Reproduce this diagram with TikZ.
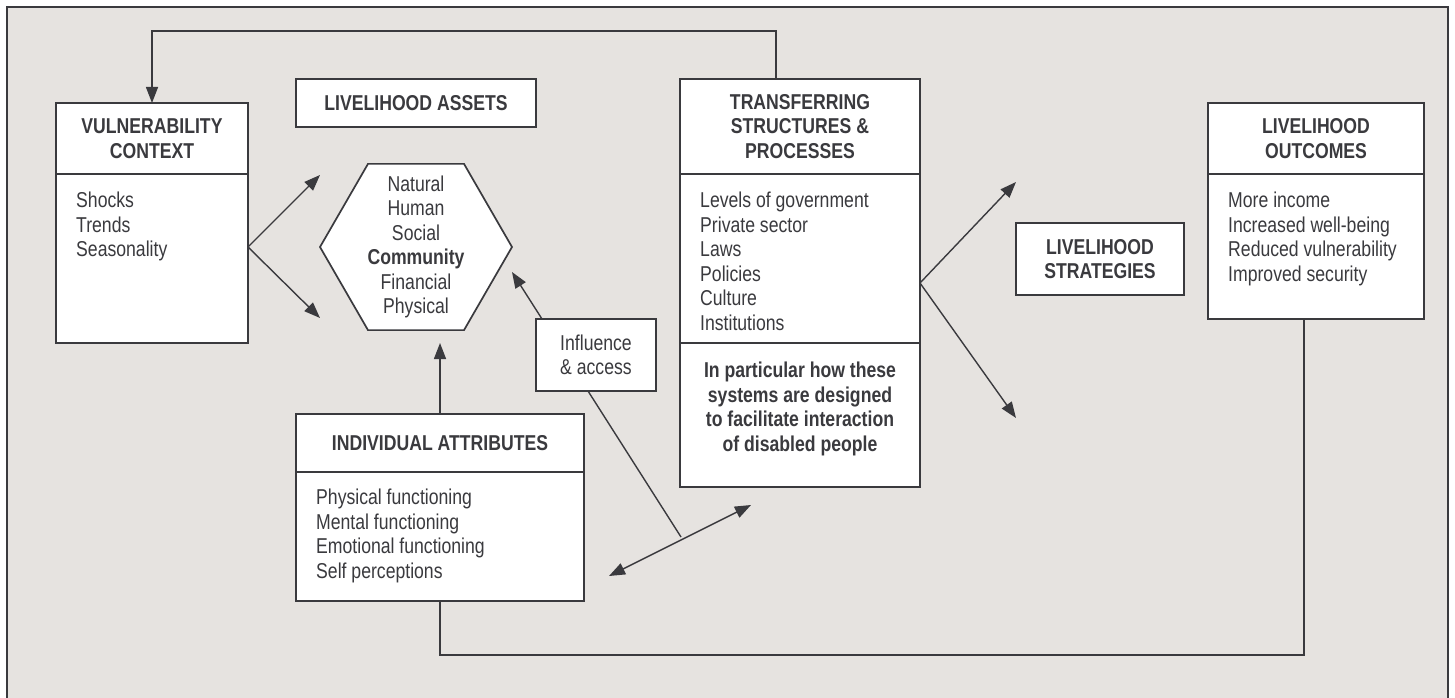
\documentclass[tikz,border=0pt]{standalone}
\usepackage{fontspec}
\setmainfont{Liberation Sans}[FakeStretch=0.82]
\usetikzlibrary{arrows.meta,shapes.geometric,positioning}
\definecolor{panelgrey}{RGB}{230,227,224}
\definecolor{inkgrey}{RGB}{58,58,62}

\begin{document}
\begin{tikzpicture}[
    x=1pt, y=-1pt,
    every node/.style={text=inkgrey},
    titlebox/.style={draw=inkgrey, line width=1.7pt, fill=white, align=center, inner sep=0pt, outer sep=0pt, font=\fontsize{21.5}{24.5}\selectfont\bfseries},
    bodybox/.style={draw=inkgrey, line width=1.7pt, fill=white, inner sep=0pt, outer sep=0pt},
    listtext/.style={align=left, inner sep=0pt, font=\fontsize{21.5}{24.5}\selectfont},
    notetext/.style={align=center, inner sep=0pt, font=\fontsize{21.5}{24.5}\selectfont\bfseries},
    arrow/.style={-{Triangle[length=16pt,width=12pt]}, line width=1.4pt, draw=inkgrey},
    link/.style={line width=1.4pt, draw=inkgrey}
]
    \useasboundingbox (0,0) rectangle (1455,698);

    % background panel
    \draw[inkgrey, line width=1.7pt, fill=panelgrey] (7,7) rectangle (1448,740);

    % Vulnerability context
    \node[titlebox, minimum width=192pt, minimum height=71pt, anchor=north west] (vulntitle) at (56,103) {VULNERABILITY\\CONTEXT};
    \node[bodybox, minimum width=192pt, minimum height=169pt, below=0pt of vulntitle] (vulnbody) {};
    \node[listtext, below right=18pt and 20pt of vulnbody.north west] (vulnlist) {Shocks\\Trends\\Seasonality};

    % Livelihood assets
    \node[titlebox, minimum width=240pt, minimum height=48pt, anchor=north west] (assets) at (296,79) {LIVELIHOOD ASSETS};
    \node[bodybox, regular polygon, regular polygon sides=6, minimum size=192pt] (hex) at (416,247) {};
    \node[listtext, align=center] (assetlist) at (hex.center) {Natural\\Human\\Social\\\textbf{Community}\\Financial\\Physical};

    % Transferring structures & processes
    \node[titlebox, minimum width=240pt, minimum height=95pt, anchor=north west] (tstitle) at (680,79) {TRANSFERRING\\STRUCTURES \&\\PROCESSES};
    \node[bodybox, minimum width=240pt, minimum height=169pt, below=0pt of tstitle] (tsbody) {};
    \node[listtext, below right=18pt and 20pt of tsbody.north west] (tslist) {Levels of government\\Private sector\\Laws\\Policies\\Culture\\Institutions};
    \node[bodybox, minimum width=240pt, minimum height=144pt, below=0pt of tsbody] (tsnote) {};
    \node[notetext, below=19pt of tsnote.north] (tsnotetext) {In particular how these\\systems are designed\\to facilitate interaction\\of disabled people};

    % Livelihood strategies
    \node[titlebox, minimum width=168pt, minimum height=72pt, anchor=north west] (strat) at (1016,223) {LIVELIHOOD\\STRATEGIES};

    % Livelihood outcomes
    \node[titlebox, minimum width=216pt, minimum height=71pt, anchor=north west] (outtitle) at (1208,103) {LIVELIHOOD\\OUTCOMES};
    \node[bodybox, minimum width=216pt, minimum height=145pt, below=0pt of outtitle] (outbody) {};
    \node[listtext, below right=18pt and 20pt of outbody.north west] (outlist) {More income\\Increased well-being\\Reduced vulnerability\\Improved security};

    % Individual attributes
    \node[titlebox, minimum width=288pt, minimum height=58pt, anchor=north west] (indtitle) at (296,414) {INDIVIDUAL ATTRIBUTES};
    \node[bodybox, minimum width=288pt, minimum height=129pt, below=0pt of indtitle] (indbody) {};
    \node[listtext, below right=17pt and 20pt of indbody.north west] (indlist) {Physical functioning\\Mental functioning\\Emotional functioning\\Self perceptions};

    % Influence & access
    \node[bodybox, listtext, minimum width=120pt, minimum height=72pt] (influence) at (596,355) {Influence\\\& access};

    % free ends
    \coordinate (vup) at (320,175);
    \coordinate (vdown) at (320,318);
    \coordinate (tsup) at (1016,182);
    \coordinate (tsdown) at (1016,418);
    \coordinate (hexin) at (440,343);
    \coordinate (hexinfl) at (512,272);
    \coordinate (dleft) at (609,576);
    \coordinate (dright) at (751,505);
    \coordinate (meet) at (681,537);

    % Arrows
    \draw[arrow] (vulnbody.east |- hex.center) -- (vup);
    \draw[arrow] (vulnbody.east |- hex.center) -- (vdown);
    \draw[arrow] (tsbody.east |- tsnote.north) ++(0,-60) -- (tsup);
    \draw[arrow] (tsbody.east |- tsnote.north) ++(0,-60) -- (tsdown);
    \draw[arrow] (indtitle.north) -- (hexin);
    \draw[arrow] ([xshift=6pt]influence.north west) -- (hexinfl);
    \draw[link] ([xshift=-8pt]influence.south) -- (meet);
    \draw[arrow, {Triangle[length=16pt,width=12pt]}-{Triangle[length=16pt,width=12pt]}] (dleft) -- (dright);

    % Loops
    \draw[arrow] ([xshift=-24pt]tstitle.north) -- ++(0,-48) -| (vulntitle.north);
    \draw[link] (indbody.south) -- ++(0,54) -| ([xshift=-12pt]outbody.south);
\end{tikzpicture}
\end{document}
